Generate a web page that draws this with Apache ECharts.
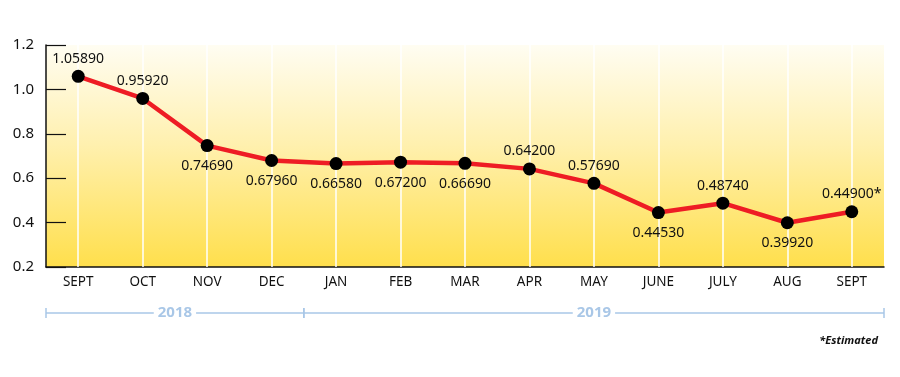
<!DOCTYPE html>
<html><head><meta charset="utf-8">
<script src="https://cdn.jsdelivr.net/npm/echarts@6/dist/echarts.min.js"></script>
<style>html,body{margin:0;padding:0;background:#fff}#c{width:900px;height:377px}</style>
</head><body><div id="c"></div>
<script>
const categories = ['SEPT','OCT','NOV','DEC','JAN','FEB','MAR','APR','MAY','JUNE','JULY','AUG','SEPT'];
const values = [1.0589,0.9592,0.7469,0.6796,0.6658,0.6720,0.6669,0.6420,0.5769,0.4453,0.4874,0.3992,0.4490];
const valueLabels = ['1.05890','0.95920','0.74690','0.67960','0.66580','0.67200','0.66690','0.64200','0.57690','0.44530','0.48740','0.39920','0.44900*'];
const labelAbove = [true,true,false,false,false,false,false,true,true,false,true,false,true];
const years = ['2018','2019'];
const yearStart = [0,4];
const yearEnd = [3,12];
const yTicks = [0.2,0.4,0.6,0.8,1.0,1.2];

const FONT = '"Noto Sans", "Open Sans", sans-serif';
const chart = echarts.init(document.getElementById('c'));
const option = {
  animation:false,
  grid:{left:46,right:16,top:45,bottom:110,show:true,borderWidth:0,
    backgroundColor:{type:'linear',x:0,y:0,x2:0,y2:1,colorStops:[
      {offset:0,color:'#FFFDF2'},{offset:0.45,color:'#FFF0AE'},{offset:1,color:'#FFDF4C'}]}},
  xAxis:{type:'category',data:categories,boundaryGap:true,
    axisLine:{lineStyle:{color:'#111',width:1.5}},
    axisTick:{inside:true,length:7,lineStyle:{color:'#111',width:1.2}},
    axisLabel:{color:'#111',fontSize:13.5,fontFamily:FONT,margin:8},
    splitLine:{show:false}},
  yAxis:{type:'value',min:0.2,max:1.2,interval:0.2,
    axisLine:{show:true,lineStyle:{color:'#111',width:1.5}},
    axisTick:{show:true,inside:true,length:20,lineStyle:{color:'#111',width:1.2}},
    axisLabel:{color:'#111',fontSize:15,fontFamily:FONT,margin:12,
      formatter:v=>v.toFixed(1)},
    splitLine:{show:false}},
  series:[{
    type:'line',data:values.map((v,i)=>({value:v,label:{position:labelAbove[i]?'top':'bottom',
      distance:labelAbove[i]?4:7,formatter:valueLabels[i]}})),
    lineStyle:{color:'#EE1C24',width:4.5},
    symbol:'circle',symbolSize:13,itemStyle:{color:'#000'},
    label:{show:true,color:'#111',fontSize:14,fontFamily:FONT},
    z:5,
    markLine:{silent:true,symbol:'none',label:{show:false},z:1,
      lineStyle:{color:'#fff',width:1.5,type:'solid'},
      data:categories.map((c,i)=>({xAxis:i}))}
  }]
};
chart.setOption(option);

// Year brackets and note, positioned from the axis scale
const yLine = 313;
const gfx = [];
const half = (chart.convertToPixel({xAxisIndex:0},1) - chart.convertToPixel({xAxisIndex:0},0))/2;
years.forEach((y,i)=>{
  const x0 = chart.convertToPixel({xAxisIndex:0},yearStart[i]) - half;
  const x1 = chart.convertToPixel({xAxisIndex:0},yearEnd[i]) + half;
  const st = {stroke:'#A9C7E7',lineWidth:1.5};
  gfx.push({type:'line',shape:{x1:x0,y1:yLine,x2:x1,y2:yLine},style:st});
  gfx.push({type:'line',shape:{x1:x0,y1:yLine-5,x2:x0,y2:yLine+5},style:st});
  gfx.push({type:'line',shape:{x1:x1,y1:yLine-5,x2:x1,y2:yLine+5},style:st});
  gfx.push({type:'text',x:(x0+x1)/2,y:yLine,z:10,style:{text:y,fill:'#A9C7E7',
    font:'bold 15px '+FONT,align:'center',verticalAlign:'middle',
    backgroundColor:'#fff',padding:[0,4]}});
});
gfx.push({type:'text',right:22,top:335,style:{text:'*Estimated',fill:'#111',
  font:'italic bold 11px '+FONT}});
chart.setOption({graphic:gfx});
</script></body></html>
